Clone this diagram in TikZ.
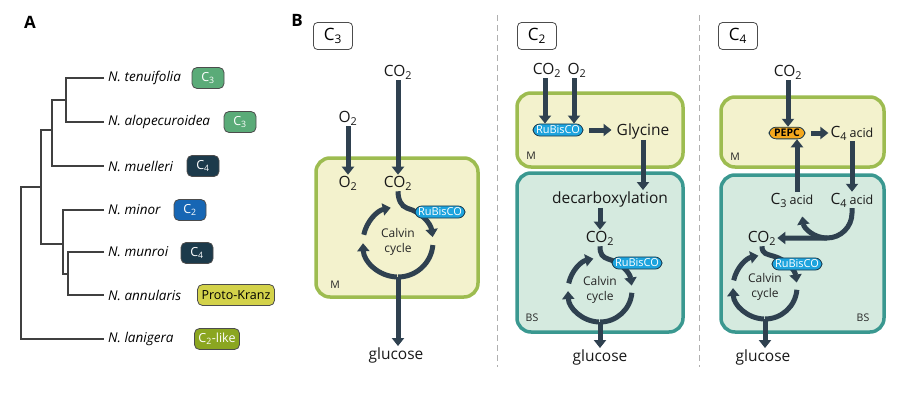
\documentclass[tikz,border=0pt]{standalone}
\usepackage{fontspec}
\setmainfont{Open Sans}
\usetikzlibrary{arrows.meta}

\definecolor{flowc}{HTML}{2F4150}
\definecolor{treec}{HTML}{404040}
\definecolor{mfill}{HTML}{F3F2CD}
\definecolor{mline}{HTML}{9DBC50}
\definecolor{bsfill}{HTML}{D5EADF}
\definecolor{bsline}{HTML}{3A9890}
\definecolor{cthree}{HTML}{5AAB78}
\definecolor{cfour}{HTML}{1C3A4B}
\definecolor{ctwo}{HTML}{1766B4}
\definecolor{proto}{HTML}{D3D24A}
\definecolor{ctwolike}{HTML}{8BA620}
\definecolor{rubis}{HTML}{1DA4DE}
\definecolor{pepc}{HTML}{F4A81D}
\definecolor{sepc}{HTML}{B0B0B0}

\tikzset{
  branch/.style={draw=treec,line width=2pt},
  species/.style={anchor=west,inner sep=4pt,text=black,font=\fontsize{13.5}{16}\selectfont\itshape},
  badge/.style={draw=black!70,line width=0.8pt,rounded corners=5pt,minimum width=32pt,minimum height=21pt,
    inner xsep=4pt,inner ysep=0pt,text=white,font=\fontsize{12.5}{14}\selectfont},
  flow/.style={draw=flowc,line width=5pt,->},
  cyc/.style={draw=flowc,line width=5pt},
  lbl/.style={inner sep=1pt,text=black!90,font=\fontsize{15.5}{18}\selectfont},
  cyctext/.style={align=center,text=black!85,font=\fontsize{12}{15}\selectfont},
  cellM/.style={fill=mfill,draw=mline,line width=3.5pt,rounded corners=14pt},
  cellBS/.style={fill=bsfill,draw=bsline,line width=3.5pt,rounded corners=14pt},
  enzyme/.style={fill=rubis,draw=cfour,line width=0.8pt,rounded corners=7pt,inner xsep=3pt,inner ysep=2pt,
    text=white,font=\fontsize{11}{13}\selectfont},
  typebox/.style={fill=white,draw=black!70,line width=0.8pt,rounded corners=4pt,minimum width=39pt,
    minimum height=27pt,font=\fontsize{17}{19}\selectfont},
  tag/.style={text=black!85,font=\fontsize{10.5}{12}\selectfont},
  panel/.style={font=\fontsize{17}{20}\selectfont\bfseries},
  divider/.style={draw=sepc,line width=1pt,dash pattern=on 6pt off 4pt},
}

\begin{document}
\begin{tikzpicture}[x=1pt,y=-1pt,>={Triangle[width=12pt,length=8pt]}]
  \useasboundingbox (0,0) rectangle (899,402);

  \node[panel] (labA) at (30,22) {A};
  \node[panel] (labB) at (297,20) {B};

  % phylogeny
  \node[species] (ten) at (104,78) {N. tenuifolia};
  \node[species] (alo) at (104,122) {N. alopecuroidea};
  \node[species] (mue) at (104,166) {N. muelleri};
  \node[species] (min) at (104,210) {N. minor};
  \node[species] (mun) at (104,252) {N. munroi};
  \node[species] (ann) at (104,295) {N. annularis};
  \node[species] (lan) at (104,339) {N. lanigera};
  \coordinate (n1) at (66,100);
  \coordinate (n2) at (52,130);
  \coordinate (n3) at (68,274);
  \coordinate (n4) at (63,244);
  \coordinate (n5) at (41,187);
  \coordinate (root) at (21,263);
  \draw[branch] (ten.west) -| (n1) |- (alo.west);
  \draw[branch] (n1) -| (n2) |- (mue.west);
  \draw[branch] (min.west) -| (n4) |- (n3);
  \draw[branch] (mun.west) -| (n3) |- (ann.west);
  \draw[branch] (n2) -| (n5) |- (n4);
  \draw[branch] (n5) -| (root) |- (lan.west);

  \node[badge,fill=cthree] (bten) at (208,78) {C\textsubscript{3}};
  \node[badge,fill=cthree] (balo) at (240,122) {C\textsubscript{3}};
  \node[badge,fill=cfour] (bmue) at (203,166) {C\textsubscript{4}};
  \node[badge,fill=ctwo] (bmin) at (190,210) {C\textsubscript{2}};
  \node[badge,fill=cfour] (bmun) at (197,253) {C\textsubscript{4}};
  \node[badge,fill=proto,text=black] (bann) at (236,295) {Proto-Kranz};
  \node[badge,fill=ctwolike] (blan) at (217,339) {C\textsubscript{2}-like};

  \draw[divider] (497,15) -- (497,367);
  \draw[divider] (699,15) -- (699,367);

  % C3 pathway
  \node[typebox] (t3) at (333,36) {C\textsubscript{3}};
  \draw[cellM] (316,158) rectangle (478,297);
  \node[tag] (m3) at (335,285) {M};
  \node[lbl] (co2a3) at (398,72) {CO\textsubscript{2}};
  \node[lbl] (o2a3) at (348,118) {O\textsubscript{2}};
  \node[lbl] (co2i3) at (398,183) {CO\textsubscript{2}};
  \node[lbl] (o2i3) at (348,183) {O\textsubscript{2}};
  \node[lbl] (glu3) at (396,355) {glucose};
  \draw[flow] (co2a3) -- (co2i3);
  \draw[flow] (o2a3) -- (o2i3);
  \coordinate (cyc3) at (398,242);

  % C2 pathway
  \node[typebox] (t2) at (537,36) {C\textsubscript{2}};
  \draw[cellM] (517,93) rectangle (683,167);
  \draw[cellBS] (517,173) rectangle (683,332);
  \node[tag] (m2) at (531,156) {M};
  \node[tag] (bs2) at (532,318) {BS};
  \node[lbl] (co2a2) at (547,70) {CO\textsubscript{2}};
  \node[lbl] (o2a2) at (577,70) {O\textsubscript{2}};
  \node[enzyme] (rub2) at (558,130) {RuBisCO};
  \node[lbl] (gly2) at (643,131) {Glycine};
  \node[lbl] (dec2) at (610,199) {decarboxylation};
  \node[lbl] (co2i2) at (600,238) {CO\textsubscript{2}};
  \node[lbl] (glu2) at (600,357) {glucose};
  \draw[flow] ([xshift=-2pt]co2a2.south) -- ([xshift=-2pt]co2a2.south |- rub2.north);
  \draw[flow] ([xshift=-3pt]o2a2.south) -- ([xshift=-3pt]o2a2.south |- rub2.north);
  \draw[flow,shorten <=6pt,shorten >=4pt] (rub2.east) -- (rub2.east -| gly2.west);
  \draw[flow] (gly2.south) -- (gly2.south |- dec2.north);
  \draw[flow] (co2i2.north |- dec2.south) -- (co2i2.north);
  \coordinate (cyc2) at (600,290);

  % C4 pathway
  \node[typebox] (t4) at (738,36) {C\textsubscript{4}};
  \draw[cellM] (721,97) rectangle (884,167);
  \draw[cellBS] (721,175) rectangle (884,332);
  \node[tag] (m4) at (735,157) {M};
  \node[tag] (bs4) at (863,318) {BS};
  \node[lbl] (co2a4) at (788,72) {CO\textsubscript{2}};
  \node[enzyme,fill=pepc,text=black,inner xsep=5pt,font=\fontsize{10.5}{13}\selectfont\bfseries] (pepc4) at (787,133) {PEPC};
  \node[lbl] (c4m4) at (852,133) {C\textsubscript{4}\,{\fontsize{12.5}{14}\selectfont acid}};
  \node[lbl] (c4b4) at (852,200) {C\textsubscript{4}\,{\fontsize{12.5}{14}\selectfont acid}};
  \node[lbl] (c3b4) at (792,200) {C\textsubscript{3}\,{\fontsize{12.5}{14}\selectfont acid}};
  \node[lbl] (co2i4) at (762,238) {CO\textsubscript{2}};
  \node[lbl] (glu4) at (763,357) {glucose};
  \draw[flow] (co2a4) -- (co2a4 |- pepc4.north);
  \draw[flow,shorten <=6pt,shorten >=1pt] (pepc4.east) -- (pepc4.east -| c4m4.west);
  \draw[flow] (c4m4) -- (c4b4);
  \draw[flow] ([xshift=5pt]c3b4.north) -- ([xshift=5pt]c3b4.north |- pepc4.south);
  \coordinate (o4) at (827,213);
  \draw[flow] (c4b4.south) -- ([shift={(0:25)}]o4) arc[start angle=0,end angle=90,radius=25] -- (co2i4.east);
  \draw[flow] ([shift={(90:25)}]o4) arc[start angle=90,end angle=172,radius=25];
  \coordinate (cyc4) at (765,287);

  % Calvin cycles
  \foreach \n/\r in {3/35,2/32,4/32} {
    \draw[cyc,->] ([shift={(92:\r)}]cyc\n) arc[start angle=92,end angle=178,radius=\r];
    \draw[cyc,->] ([shift={(192:\r)}]cyc\n) arc[start angle=192,end angle=258,radius=\r];
    \draw[cyc,->] (co2i\n.south) .. controls +(0,8) and +(-6,-2) .. ([shift={(285:\r)}]cyc\n)
      arc[start angle=285,end angle=352,radius=\r];
    \draw[cyc] ([shift={(5:\r)}]cyc\n) arc[start angle=5,end angle=90,radius=\r];
    \coordinate (bot\n) at ([shift={(90:\r)}]cyc\n);
    \draw[flow] (bot\n) -- (bot\n |- glu\n.north);
    \node[cyctext] (txt\n) at (cyc\n) {Calvin\\cycle};
  }
  \node[enzyme] (rub3) at (440,212) {RuBisCO};
  \node[enzyme] (rubc2) at (637,263) {RuBisCO};
  \node[enzyme] (rub4) at (797,264) {RuBisCO};
\end{tikzpicture}
\end{document}
